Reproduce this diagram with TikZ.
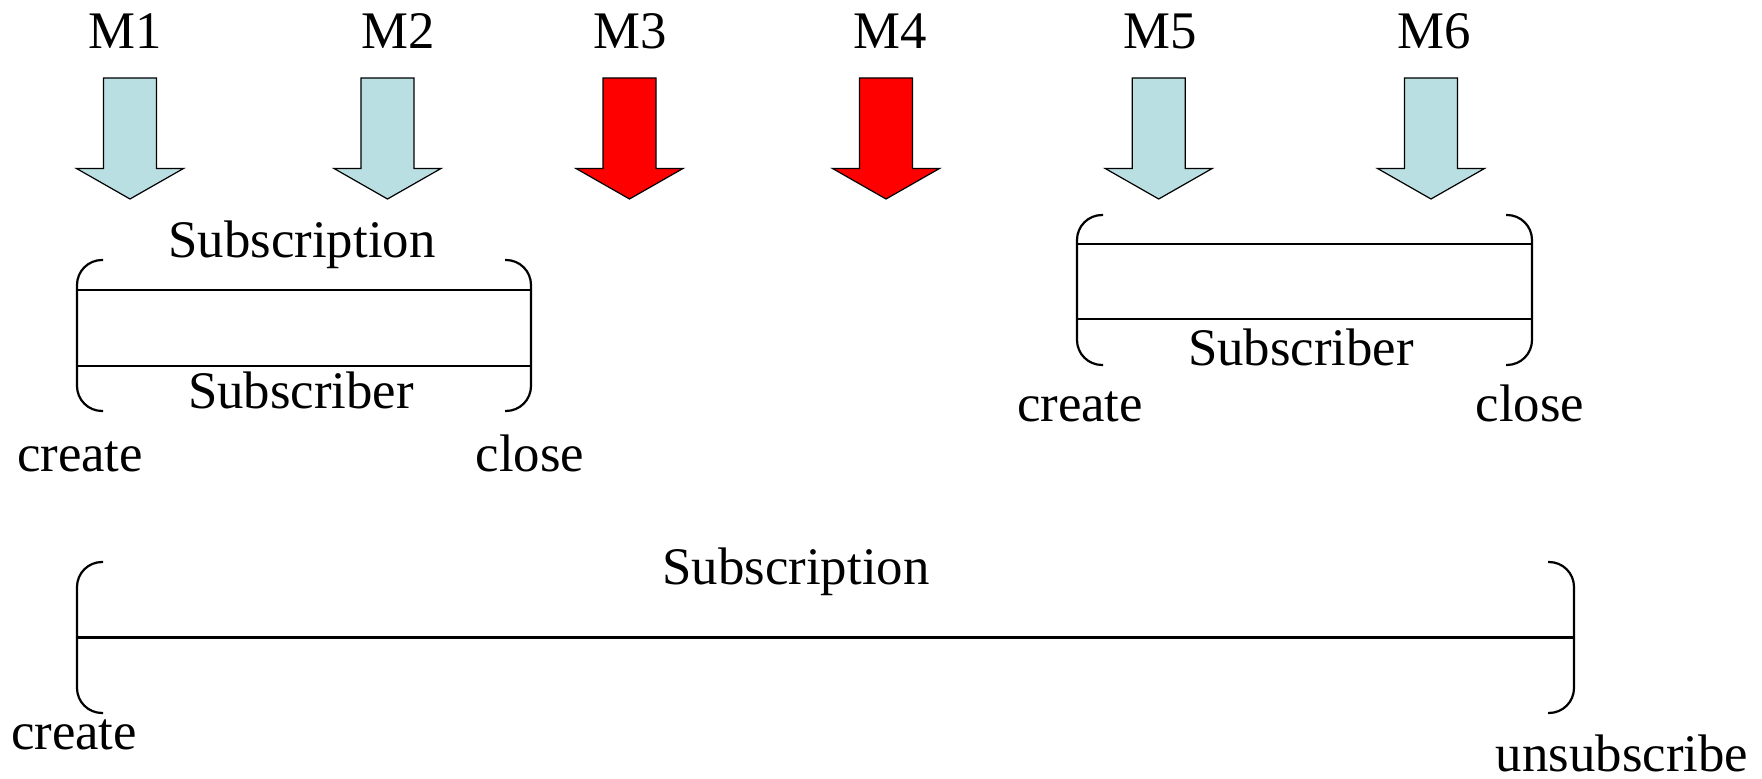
\documentclass[tikz,border=0pt]{standalone}
\usepackage{fontspec}
\setmainfont{Liberation Serif}
\definecolor{msgblue}{RGB}{185,223,227}
\definecolor{msgred}{RGB}{255,0,0}
\begin{document}
\begin{tikzpicture}[x=0.5pt,y=-0.5pt,
  lbl/.style={inner sep=0pt,anchor=base,font=\fontsize{26.4}{30}\selectfont},
  arrowshape/.style={draw=black,line width=0.6pt,line join=miter},
  okarrow/.style={arrowshape,fill=msgblue},
  badarrow/.style={arrowshape,fill=msgred},
  brk/.style={draw=black,line width=1.1pt,rounded corners=12.5pt},
  rule/.style={draw=black,line width=1.1pt},
  msgarrow/.pic={
    \path[pic actions] (-26.5,78) -- (26.5,78) -- (26.5,168.5) -- (53.5,168.5)
      -- (0,199) -- (-53.5,168.5) -- (-26.5,168.5) -- cycle;
  }]
\useasboundingbox (0,0) rectangle (1762,779);

% message labels
\node[lbl] (m1) at (125,49) {M1};
\node[lbl] (m2) at (398,49) {M2};
\node[lbl] (m3) at (630,49) {M3};
\node[lbl] (m4) at (890,49) {M4};
\node[lbl] (m5) at (1160,49) {M5};
\node[lbl] (m6) at (1434,49) {M6};

% message arrows
\pic[okarrow]  at (130,0)    {msgarrow};
\pic[okarrow]  at (387.5,0)  {msgarrow};
\pic[badarrow] at (629.5,0)  {msgarrow};
\pic[badarrow] at (886,0)    {msgarrow};
\pic[okarrow]  at (1158.7,0) {msgarrow};
\pic[okarrow]  at (1431,0)   {msgarrow};

% first subscription / subscriber
\draw[brk] (103,260) -- (77,260) -- (77,411) -- (103,411);
\draw[brk] (505,260) -- (531,260) -- (531,411) -- (505,411);
\draw[rule] (77,290) -- (531,290);
\draw[rule] (77,366) -- (531,366);
\node[lbl] (subn1) at (302,258) {Subscription};
\node[lbl] (sbr1) at (301,409) {Subscriber};
\node[lbl] (cr1) at (80,472) {create};
\node[lbl] (cl1) at (530,472) {close};

% second subscriber
\draw[brk] (1103,215) -- (1077,215) -- (1077,365) -- (1103,365);
\draw[brk] (1506,215) -- (1532,215) -- (1532,365) -- (1506,365);
\draw[rule] (1077,244) -- (1532,244);
\draw[rule] (1077,319) -- (1532,319);
\node[lbl] (sbr2) at (1301,366) {Subscriber};
\node[lbl] (cr2) at (1080,422) {create};
\node[lbl] (cl2) at (1530,422) {close};

% long subscription
\draw[brk] (103,562) -- (77,562) -- (77,713) -- (103,713);
\draw[brk] (1548,562) -- (1574,562) -- (1574,713) -- (1548,713);
\draw[rule] (77,637.5) -- (1574,637.5);
\node[lbl] (subn2) at (796,585) {Subscription};
\node[lbl] (cr3) at (74,750) {create};
\node[lbl,text depth=0pt] (uns) at (1622,772) {unsubscribe};
\end{tikzpicture}
\end{document}
